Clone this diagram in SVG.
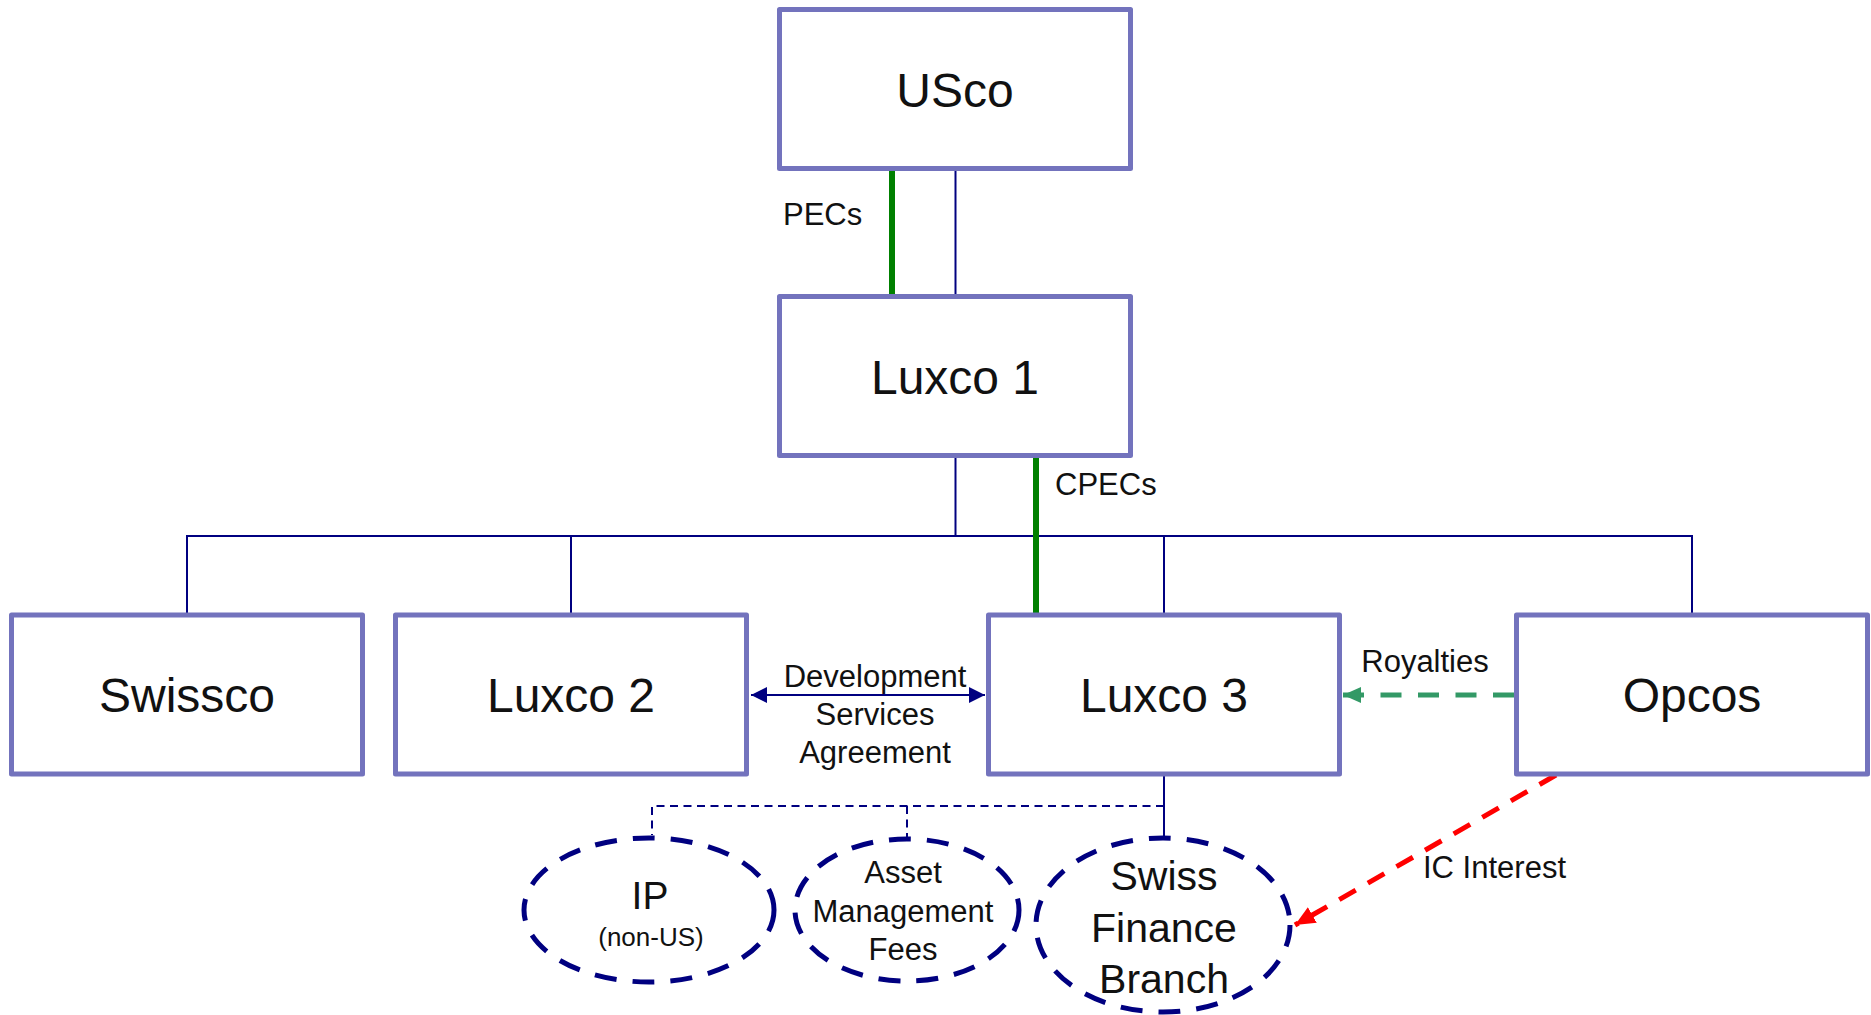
<svg xmlns="http://www.w3.org/2000/svg" width="1871" height="1015" viewBox="0 0 1871 1015">
  <defs>
    <style>
      .box { fill: #ffffff; stroke: #7373BD; stroke-width: 5; stroke-linejoin: round; }
      .oval { fill: none; stroke: #000080; stroke-width: 5; stroke-dasharray: 22 16; }
      .tree { fill: none; stroke: #000080; stroke-width: 2; }
      .sub { fill: none; stroke: #000080; stroke-width: 2; stroke-dasharray: 8 5.5; }
      .equity { fill: none; stroke: #008000; stroke-width: 6; }
      .royal { fill: none; stroke: #339966; stroke-width: 5; stroke-dasharray: 21 16.5; }
      .interest { fill: none; stroke: #FF0000; stroke-width: 5; stroke-dasharray: 19 14; }
      text { font-family: "Liberation Sans", Arial, sans-serif; fill: #111111; }
      .big { font-size: 48px; text-anchor: middle; }
      .lbl { font-size: 31px; }
      .mid { text-anchor: middle; }
    </style>
    <marker id="headNavy" viewBox="0 0 16 16" refX="16" refY="8" markerWidth="16" markerHeight="16" markerUnits="userSpaceOnUse" orient="auto-start-reverse">
      <path d="M0,0 L16,8 L0,16 z" fill="#000080"/>
    </marker>
    <marker id="headGreen" viewBox="0 0 18 16" refX="18" refY="8" markerWidth="18" markerHeight="16" markerUnits="userSpaceOnUse" orient="auto">
      <path d="M0,0 L18,8 L0,16 z" fill="#339966"/>
    </marker>
    <marker id="headRed" viewBox="0 0 20 18" refX="20" refY="9" markerWidth="20" markerHeight="18" markerUnits="userSpaceOnUse" orient="auto">
      <path d="M0,0 L20,9 L0,18 z" fill="#FF0000"/>
    </marker>
  </defs>

  <rect width="1871" height="1015" fill="#ffffff"/>

  <!-- connectors -->
  <g id="connectors">
    <!-- ownership tree -->
    <line class="tree" x1="955.5" y1="170" x2="955.5" y2="295"/>
    <line class="tree" x1="955.5" y1="456" x2="955.5" y2="536"/>
    <polyline class="tree" points="187,614 187,536 1692,536 1692,614"/>
    <line class="tree" x1="571" y1="536" x2="571" y2="614"/>
    <line class="tree" x1="1164" y1="536" x2="1164" y2="614"/>
    <!-- equity instruments -->
    <line class="equity" x1="892" y1="170" x2="892" y2="295"/>
    <line class="equity" x1="1036" y1="456" x2="1036" y2="614"/>
    <!-- Luxco 3 activities -->
    <line class="tree" x1="1164" y1="775" x2="1164" y2="836"/>
    <polyline class="sub" points="1164,806 652,806 652,835"/>
    <line class="sub" x1="907" y1="806" x2="907" y2="837"/>
    <!-- flows -->
    <line class="tree" x1="751" y1="695" x2="985" y2="695" marker-start="url(#headNavy)" marker-end="url(#headNavy)"/>
    <line class="royal" x1="1514" y1="695" x2="1343" y2="695" marker-end="url(#headGreen)"/>
    <line class="interest" x1="1556" y1="775" x2="1295" y2="925" marker-end="url(#headRed)"/>
  </g>

  <!-- connector labels -->
  <g id="labels">
    <text class="lbl" x="783" y="225">PECs</text>
    <text class="lbl" x="1055" y="495">CPECs</text>
    <text class="lbl mid" x="875" y="687">Development</text>
    <text class="lbl mid" x="875" y="725">Services</text>
    <text class="lbl mid" x="875" y="763">Agreement</text>
    <text class="lbl mid" x="1425" y="672">Royalties</text>
    <text class="lbl" x="1423" y="878">IC Interest</text>
  </g>

  <g id="usco">
    <rect class="box" x="779.5" y="9.5" width="351" height="159"/>
    <text class="big" x="955" y="107">USco</text>
  </g>
  <g id="luxco1">
    <rect class="box" x="779.5" y="296.5" width="351" height="159"/>
    <text class="big" x="955" y="394">Luxco 1</text>
  </g>
  <g id="swissco">
    <rect class="box" x="11.5" y="615" width="351" height="159"/>
    <text class="big" x="187" y="712">Swissco</text>
  </g>
  <g id="luxco2">
    <rect class="box" x="395.5" y="615" width="351" height="159"/>
    <text class="big" x="571" y="712">Luxco 2</text>
  </g>
  <g id="luxco3">
    <rect class="box" x="988.5" y="615" width="351" height="159"/>
    <text class="big" x="1164" y="712">Luxco 3</text>
  </g>
  <g id="opcos">
    <rect class="box" x="1516.5" y="615" width="351" height="159"/>
    <text class="big" x="1692" y="712">Opcos</text>
  </g>

  <g id="ip">
    <ellipse class="oval" cx="649" cy="910" rx="125" ry="72"/>
    <text class="mid" x="650" y="909" font-size="39">IP</text>
    <text class="mid" x="651" y="946" font-size="26">(non-US)</text>
  </g>
  <g id="asset-management">
    <ellipse class="oval" cx="907" cy="910" rx="112" ry="71"/>
    <text class="lbl mid" x="903" y="883">Asset</text>
    <text class="lbl mid" x="903" y="922">Management</text>
    <text class="lbl mid" x="903" y="960">Fees</text>
  </g>
  <g id="swiss-finance-branch">
    <ellipse class="oval" cx="1163" cy="925" rx="127" ry="87"/>
    <text class="mid" x="1164" y="890" font-size="41">Swiss</text>
    <text class="mid" x="1164" y="942" font-size="41">Finance</text>
    <text class="mid" x="1164" y="993" font-size="41">Branch</text>
  </g>
</svg>
